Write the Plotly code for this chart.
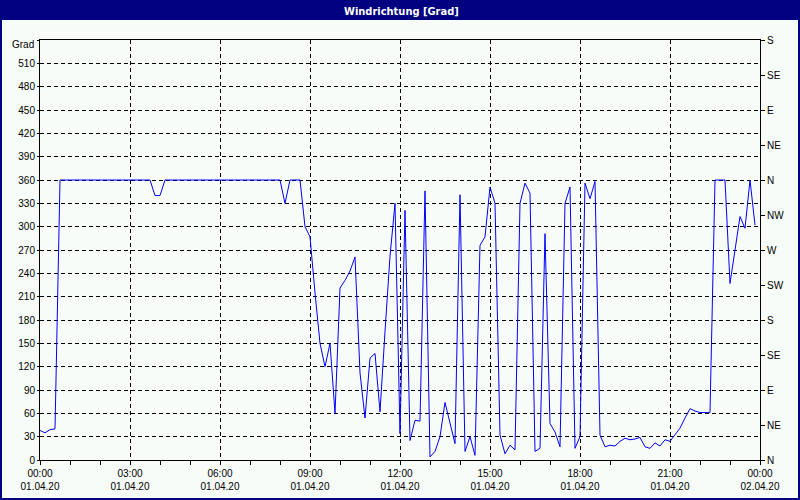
import plotly.graph_objects as go
import pandas as pd

# ---------------- data ----------------
start_time = "2020-04-01 00:00"
end_time = "2020-04-02 00:00"
interval = "10min"

wind_direction = [
    38, 35, 39, 40, 360, 360, 360, 360, 360, 360,
    360, 360, 360, 360, 360, 360, 360, 360, 360, 360,
    360, 360, 360, 340, 340, 360, 360, 360, 360, 360,
    360, 360, 360, 360, 360, 360, 360, 360, 360, 360,
    360, 360, 360, 360, 360, 360, 360, 360, 360, 330,
    360, 360, 360, 300, 287, 215, 150, 120, 150, 60,
    221, 231, 243, 261, 112, 54, 131, 137, 62, 165,
    262, 330, 34, 321, 25, 51, 50, 346, 4, 11,
    30, 74, 47, 21, 341, 11, 30, 6, 276, 287,
    351, 330, 32, 8, 19, 13, 330, 356, 343, 11,
    15, 291, 47, 36, 17, 330, 351, 15, 30, 356,
    336, 358, 32, 17, 19, 18, 24, 28, 26, 27,
    29, 17, 15, 22, 18, 26, 24, 32, 41, 54,
    66, 63, 61, 61, 61, 360, 360, 360, 227, 270,
    313, 298, 360, 302,
]

degree_ticks = list(range(0, 541, 30))
degree_labels = [str(v) for v in degree_ticks[:-1]] + [""]
compass_ticks = list(range(0, 541, 45))
compass_labels = ["N", "NE", "E", "SE", "S", "SW", "W", "NW", "N", "NE", "E", "SE", "S"]

title_text = "Windrichtung [Grad]"
unit_text = "Grad"

times = pd.date_range(start_time, periods=len(wind_direction), freq=interval)

# ---------------- figure ----------------
W, H = 800, 500
ML, MR, MT, MB = 40, 40, 40, 40
PW, PH = W - ML - MR, H - MT - MB


def px(x):
    return (x - ML) / PW


def py(y):
    return (H - MB - y) / PH


NAVY = "#000080"
BG = "#F8FCF8"
LINE = "#0000F8"
FONT = "Liberation Sans, Arial, sans-serif"

fig = go.Figure()
fig.add_trace(go.Scatter(x=times, y=wind_direction, mode="lines",
                         line=dict(color=LINE, width=1), hoverinfo="skip",
                         showlegend=False))
fig.add_trace(go.Scatter(x=[times[0]], y=[None], yaxis="y2", mode="lines",
                         showlegend=False, hoverinfo="skip"))

grid = dict(showgrid=True, gridcolor="black", gridwidth=1, griddash="4px,3px")

fig.update_layout(
    width=W, height=H,
    margin=dict(l=ML, r=MR, t=MT, b=MB, pad=0, autoexpand=False),
    paper_bgcolor=BG, plot_bgcolor=BG,
    showlegend=False,
    font=dict(family=FONT, size=10, color="black"),
    xaxis=dict(
        type="date", range=[start_time, end_time], automargin=False,
        tick0=start_time, dtick=3 * 3600000,
        tickformat="%H:%M<br>%d.%m.%y",
        showline=True, linecolor="black", linewidth=1, mirror=True,
        ticks="outside", ticklen=4, tickcolor="black", tickwidth=1,
        minor=dict(dtick=3600000, ticks="outside", ticklen=4,
                   tickcolor="black", showgrid=False),
        zeroline=False, tickfont=dict(size=10, color="black"),
        **grid,
    ),
    yaxis=dict(
        range=[0, 540], tickmode="array", tickvals=degree_ticks,
        ticktext=degree_labels, automargin=False,
        showline=True, linecolor="black", linewidth=1,
        ticks="outside", ticklen=2, tickcolor="black",
        zeroline=False, tickfont=dict(size=10, color="black"),
        **grid,
    ),
    yaxis2=dict(
        range=[0, 540], overlaying="y", side="right", automargin=False,
        tickmode="array", tickvals=compass_ticks, ticktext=compass_labels,
        showline=True, linecolor="black", linewidth=1,
        ticks="outside", ticklen=4, tickcolor="black",
        showgrid=False, zeroline=False,
        tickfont=dict(size=10, color="black"),
    ),
    shapes=[
        dict(type="rect", xref="paper", yref="paper",
             x0=px(0), x1=px(W), y0=py(20), y1=py(0),
             fillcolor=NAVY, line=dict(width=0), layer="above"),
        dict(type="rect", xref="paper", yref="paper",
             x0=px(1), x1=px(W - 1), y0=py(H - 1), y1=py(1),
             line=dict(color=NAVY, width=2), layer="above"),
    ],
    annotations=[
        dict(text="<b>" + title_text + "</b>", xref="paper", yref="paper",
             x=px(401), y=py(11), showarrow=False, xanchor="center",
             yanchor="middle",
             font=dict(family="Liberation Sans Narrow, DejaVu Sans Condensed, Arial Narrow, sans-serif",
                       size=11, color="white")),
        dict(text=unit_text, xref="paper", yref="paper",
             x=px(36), y=py(45), showarrow=False, xanchor="right",
             yanchor="middle", font=dict(size=10, color="black")),
    ],
)

fig.write_html(
    "out.html",
    config={"displayModeBar": False},
    post_script="document.body.style.margin='0';document.body.style.padding='0';",
)
